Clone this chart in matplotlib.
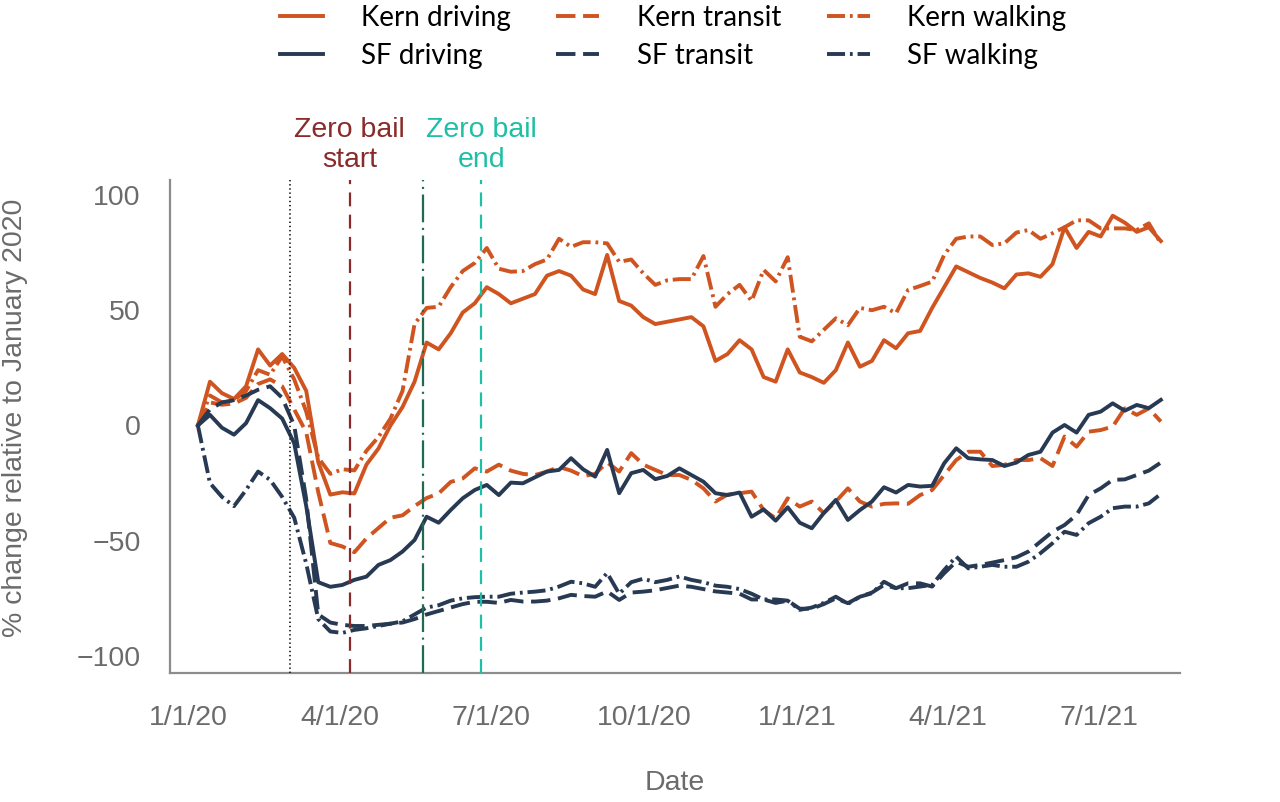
import matplotlib
matplotlib.use("Agg")
import matplotlib.pyplot as plt
from matplotlib.font_manager import FontProperties
import pandas as pd

# ---------------- data ----------------
first_date = "2020-01-07"
last_date = "2021-08-07"
n_points = 81
dates = pd.date_range(first_date, last_date, periods=n_points)

kern_driving = [0, 19, 14, 11.5, 17, 33, 26, 31, 25, 15,
                -16, -30, -29, -29.5, -17, -10, 0, 8, 19, 36,
                33, 40, 49, 53, 60, 57, 53, 55, 57, 65,
                67, 65, 59, 57, 74, 54, 52, 47, 44, 45,
                46, 47, 43, 28, 31, 37, 33, 21, 19, 33,
                23, 21, 18.5, 24, 36, 25.5, 28, 37, 33.5, 40,
                41, 51, 60, 69, 66.5, 64, 62, 59.5, 65.5, 66,
                64.5, 70, 86, 77, 84, 82, 91, 88, 84, 86,
                80]
kern_transit = [0, 10, 9, 9.5, 12, 18, 20, 17, 7, -3,
                -29, -51, -52.5, -55, -49, -44.5, -40, -39, -35, -31.5,
                -29.5, -24.5, -23, -18.6, -20, -17, -19.6, -21, -21.5, -20,
                -18, -19.6, -22, -21, -16, -20, -12, -17, -19.3, -21.5,
                -21.5, -23.6, -27.3, -33, -30, -29.4, -28.7, -36.7, -40.3, -31.6,
                -35.2, -33, -38, -33, -27.3, -33, -35.2, -34, -33.8, -34,
                -30.2, -28, -21.5, -15, -11.4, -11.4, -17.6, -17.1, -15, -15,
                -14.2, -17.6, -4.8, -9.2, -2.7, -2, -0.5, 7.4, 4.6, 7.4,
                1.7]
kern_walking = [0, 13, 10, 11, 15, 24, 22, 30, 20, 6,
                -14, -21, -19, -19.5, -11, -5, 3, 15, 44, 51,
                51.5, 60, 67, 70.5, 77, 68, 66.7, 67, 70, 72,
                81, 77.5, 79.5, 79.5, 79, 71, 72, 66, 61, 63,
                63.5, 63.5, 73.5, 51.5, 57, 61, 54, 67.5, 62.5, 73,
                38.5, 36.5, 41.5, 46.5, 43.5, 51, 50, 51.5, 48.7, 58.8,
                60.5, 62.4, 74, 81, 82, 82, 78.3, 79, 83.7, 84.8,
                81, 83.4, 86, 89, 89, 85.5, 85.5, 85.5, 84.8, 87.7,
                79]
sf_driving = [0, 4.6, -1, -4, 1, 11, 7.5, 3, -7.7, -35,
              -68, -70, -69.2, -67, -65.6, -60.5, -58.4, -54.7, -49.7, -39.6,
              -42.2, -36.7, -31.6, -28, -25.8, -30.2, -24.8, -25.1, -22.5, -20,
              -19.3, -14.2, -19, -22.2, -10.6, -29.4, -20.7, -19.3, -23.3, -21.9,
              -18.6, -21.5, -24.4, -29.4, -30.2, -29.1, -39.6, -36.4, -41.3, -35.5,
              -42.2, -44.6, -38, -32.3, -41, -36.7, -33, -26.8, -29.1, -25.8,
              -26.5, -26.2, -16.4, -9.9, -14.2, -14.7, -15, -17.6, -16.1, -12.8,
              -11.4, -3.1, 0.2, -3.1, 4.6, 6, 9.6, 6.4, 8.9, 7.5,
              11.1]
sf_transit = [0, 7, 10, 11, 13, 15.5, 17, 12, 0, -32,
              -82, -85.5, -86.5, -87, -87, -86.5, -86, -85.5, -84, -82,
              -80.5, -79, -77.5, -76.5, -76.5, -77, -75.7, -76.4, -76.4, -76,
              -75, -73.5, -74, -74.3, -72, -75.7, -72.5, -72.1, -71.5, -70.5,
              -69.5, -70, -71, -72, -72.5, -73, -75.5, -75.5, -77, -76,
              -79.5, -79.5, -77.5, -75, -77.1, -74.3, -72.5, -69.2, -70.6, -68.5,
              -68.5, -69.9, -64.1, -59.1, -61.3, -60.5, -59.5, -58.4, -57.2, -54.7,
              -50.4, -46.1, -43.2, -38.8, -30.2, -27.3, -23.6, -23.4, -21.5, -19.6,
              -16.1]
sf_walking = [0, -25, -31, -35, -28, -20, -23.6, -31, -40, -60,
              -84, -89.4, -90, -88.7, -88, -87, -86, -85, -82, -79,
              -78, -76, -75, -74.5, -74.3, -74.3, -73, -72.5, -72.1, -71.5,
              -69.9, -67.8, -68.5, -70, -64, -73, -68, -66.5, -68, -67,
              -65.5, -67, -68, -69.5, -70, -71, -73, -75.5, -75.5, -76,
              -80, -79, -77, -74.3, -77.4, -74.3, -72.8, -67.8, -70.6, -70.6,
              -69.9, -69.2, -62.7, -56.9, -62, -61.3, -60.5, -61.3, -61.3, -59.1,
              -55.4, -51.1, -46.1, -47.5, -42.4, -39.6, -35.9, -35.2, -35.2, -33.8,
              -29.7]

event_dotted = "2020-03-02"
zero_bail_start = "2020-04-07"
event_dashdot = "2020-05-21"
zero_bail_end = "2020-06-25"

x_tick_dates = ["2020-01-01", "2020-04-01", "2020-07-01", "2020-10-01",
                "2021-01-01", "2021-04-01", "2021-07-01"]
x_tick_labels = ["1/1/20", "4/1/20", "7/1/20", "10/1/20", "1/1/21", "4/1/21", "7/1/21"]
y_ticks = [-100, -50, 0, 50, 100]
x_limits = ("2019-12-21 06:00", "2021-08-18 12:00")
y_limits = (-107.4, 106.5)

# ---------------- style ----------------
ORANGE = "#CF5420"
NAVY = "#283A53"
GRAY_TXT = "#6B6B6B"
plt.rcParams["lines.scale_dashes"] = False
plt.rcParams["font.family"] = ["Liberation Sans", "DejaVu Sans"]

DASH = (0, (14, 5.5))
DASHDOT = (0, (13, 3.5, 2, 3.5))
LW = 2.8
FS = 20.5

fig = plt.figure(figsize=(12.8, 8.02), dpi=100)
ax = fig.add_axes([170 / 1280, 1 - 673 / 802, 1010 / 1280, 493 / 802])

h_kd, = ax.plot(dates, kern_driving, color=ORANGE, lw=LW, ls="-", label="Kern driving")
h_kt, = ax.plot(dates, kern_transit, color=ORANGE, lw=LW, ls=DASH, label="Kern transit")
h_kw, = ax.plot(dates, kern_walking, color=ORANGE, lw=LW, ls=DASHDOT, label="Kern walking")
h_sd, = ax.plot(dates, sf_driving, color=NAVY, lw=LW, ls="-", label="SF driving")
h_st, = ax.plot(dates, sf_transit, color=NAVY, lw=LW, ls=DASH, label="SF transit")
h_sw, = ax.plot(dates, sf_walking, color=NAVY, lw=LW, ls=DASHDOT, label="SF walking")

ax.axvline(pd.Timestamp(event_dotted), color="#222222", lw=1.3, ls=(0, (1, 2)), zorder=4)
ax.axvline(pd.Timestamp(zero_bail_start), color="#8B2A2A", lw=1.6, ls=(0, (10, 6)), zorder=4)
ax.axvline(pd.Timestamp(event_dashdot), color="#1F6B50", lw=1.6, ls=(0, (20, 4, 1.5, 4)), zorder=4)
ax.axvline(pd.Timestamp(zero_bail_end), color="#1DBFA6", lw=1.6, ls=(0, (10, 6)), zorder=4)

ax.text(pd.Timestamp(zero_bail_start), 1.071, "Zero bail\nstart", transform=ax.get_xaxis_transform(),
        ha="center", va="center", fontsize=FS, color="#8B2A2A", linespacing=1.22)
ax.text(pd.Timestamp(zero_bail_end), 1.071, "Zero bail\nend", transform=ax.get_xaxis_transform(),
        ha="center", va="center", fontsize=FS, color="#1DBFA6", linespacing=1.22)

ax.set_xlim(pd.Timestamp(x_limits[0]), pd.Timestamp(x_limits[1]))
ax.set_ylim(*y_limits)

ax.set_xticks([pd.Timestamp(d) for d in x_tick_dates])
ax.set_xticklabels(x_tick_labels)
ax.set_yticks(y_ticks)
ax.tick_params(length=0, labelsize=FS, labelcolor=GRAY_TXT)
ax.tick_params(axis="x", pad=23)
ax.tick_params(axis="y", pad=21)

for s in ["top", "right"]:
    ax.spines[s].set_visible(False)
for s in ["left", "bottom"]:
    ax.spines[s].set_color("#8C8C8C")
    ax.spines[s].set_linewidth(1.6)

fig.text(675 / 1280, 1 - 783 / 802, "Date", ha="center", va="center", fontsize=FS, color=GRAY_TXT)
fig.text(15 / 1280, 1 - 418 / 802, "% change relative to January 2020", rotation=90,
         ha="center", va="center", fontsize=FS, color=GRAY_TXT)

leg_font = FontProperties(family=["Lato", "DejaVu Sans"], size=20)
fig.legend([h_kd, h_sd, h_kt, h_st, h_kw, h_sw],
           ["Kern driving", "SF driving", "Kern transit", "SF transit", "Kern walking", "SF walking"],
           ncol=3, loc="upper center", bbox_to_anchor=(0.526, 1.025), frameon=False,
           prop=leg_font, handlelength=1.55, handletextpad=1.35, columnspacing=1.65,
           labelspacing=0.42)

fig.savefig("out.png", dpi=100)
